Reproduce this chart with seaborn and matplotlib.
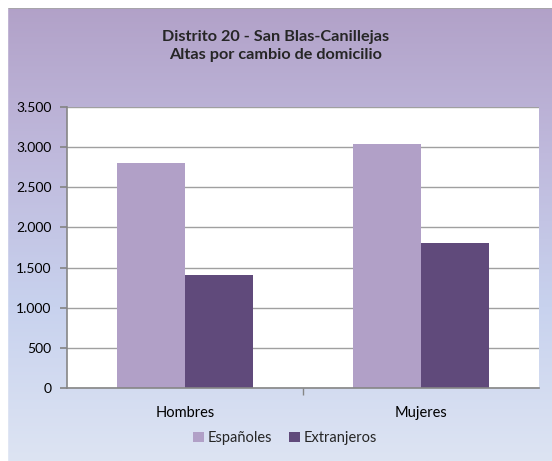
import numpy as np
import pandas as pd
import matplotlib
matplotlib.use("Agg")
import matplotlib.pyplot as plt
import seaborn as sns
from matplotlib.colors import LinearSegmentedColormap
from matplotlib.patches import Rectangle

categories = ["Hombres", "Mujeres"]
series = ["Españoles", "Extranjeros"]
espanoles = [2805, 3045]
extranjeros = [1410, 1800]
yticks = [0, 500, 1000, 1500, 2000, 2500, 3000, 3500]
ytick_labels = ["0", "500", "1.000", "1.500", "2.000", "2.500", "3.000", "3.500"]
title = "Distrito 20 - San Blas-Canillejas\nAltas por cambio de domicilio"

df = pd.DataFrame({
    "cat": categories * 2,
    "serie": [series[0]] * 2 + [series[1]] * 2,
    "valor": espanoles + extranjeros,
})

sns.set_theme(style="white")
plt.rcParams["font.family"] = ["Lato", "DejaVu Sans"]

W, H = 552, 461
fig = plt.figure(figsize=(W / 100, H / 100), dpi=100)

# gradient background
bg = fig.add_axes([0, 0, 1, 1], zorder=-10)
cmap = LinearSegmentedColormap.from_list("g", ["#b1a0c7", "#bfb9dc", "#c8d2ee", "#dde4f3"])
grad = np.linspace(0, 1, 256).reshape(-1, 1)
bg.imshow(grad, aspect="auto", cmap=cmap, extent=[0, 1, 0, 1], origin="upper")
bg.set_xlim(0, 1)
bg.set_ylim(0, 1)
bg.axis("off")
bg.add_patch(Rectangle((7 / W, -0.1), 2, 1 - 8 / H + 0.1, fill=False,
                       edgecolor="#8c8c8c", linewidth=1.2, transform=bg.transAxes))
bg.add_patch(Rectangle((0, 0), 6.5 / W, 1, color="white", transform=bg.transAxes))
bg.add_patch(Rectangle((0, 1 - 7.5 / H), 1, 7.5 / H, color="white", transform=bg.transAxes))

ax = fig.add_axes([67 / W, 1 - 388 / H, (539 - 67) / W, (388 - 107) / H])
ax.set_facecolor("white")
sns.barplot(data=df, x="cat", y="valor", hue="serie", order=categories,
            hue_order=series, palette=["#b1a0c7", "#604a7b"], width=0.576,
            saturation=1, linewidth=0, ax=ax, legend=True)
ax.set_ylim(0, 3500)
ax.set_xlim(-0.5, 1.5)
ax.set_yticks(yticks)
ax.set_yticklabels(ytick_labels)
ax.set_xticks([0, 1])
ax.set_xticklabels(categories)
ax.set_xlabel("")
ax.set_ylabel("")
ax.yaxis.grid(True, color="#a0a0a0", linewidth=1)
ax.set_axisbelow(True)
for s in ["top", "right"]:
    ax.spines[s].set_visible(False)
for s in ["left", "bottom"]:
    ax.spines[s].set_color("#868686")
    ax.spines[s].set_linewidth(1.2)
ax.tick_params(axis="y", which="both", left=True, length=5, color="#868686",
               labelsize=10, labelcolor="black", pad=6)
ax.tick_params(axis="x", which="both", bottom=False, labelsize=10.5,
               labelcolor="black", pad=7)
ax.set_xticks([0.5], minor=True)
ax.tick_params(axis="x", which="minor", bottom=True, length=5, color="#868686")

leg = ax.legend(loc="center", bbox_to_anchor=(285 / W, 1 - 438 / H),
                bbox_transform=fig.transFigure, ncol=2, frameon=False,
                fontsize=10.5, handlelength=0.75, handleheight=0.75,
                handletextpad=0.25, columnspacing=1.2)

fig.text(276 / W, 1 - 46 / H, title, ha="center", va="center",
         fontsize=11.7, fontweight="bold", linespacing=1.35)

fig.savefig("out.png", dpi=100)
